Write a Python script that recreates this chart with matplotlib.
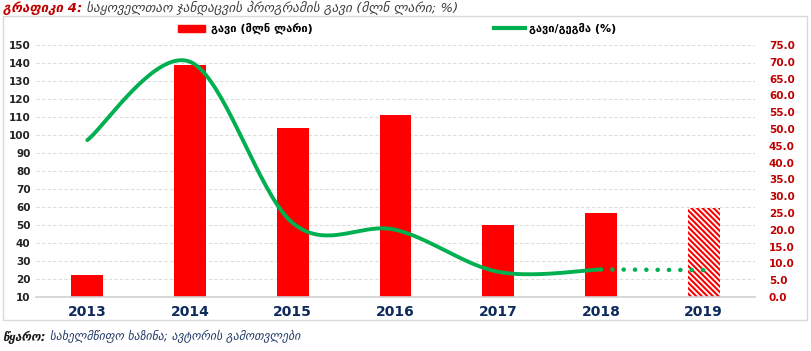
import numpy as np
import matplotlib
matplotlib.use("Agg")
import matplotlib.pyplot as plt
from matplotlib.patches import Rectangle

# data
years = ["2013", "2014", "2015", "2016", "2017", "2018", "2019"]
spend = [22.2, 138.8, 103.9, 111.0, 50.0, 56.6, 59.4]      # mln GEL (2019 = plan, hatched)
share = [46.7, 70.0, 22.0, 20.0, 7.5, 8.2, 8.0]            # %, right axis
left_ticks = list(range(10, 151, 10))
right_ticks = [i * 5.0 for i in range(16)]

title_red = "გრაფიკი 4:"
title_rest = " საყოველთაო ჯანდაცვის პროგრამის გავი (მლნ ლარი; %)"
leg_bar = "გავი (მლნ ლარი)"
leg_line = "გავი/გეგმა (%)"
src_bold = "წყარო:"
src_rest = " სახელმწიფო ხაზინა; ავტორის გამოთვლები"

RED = "#FF0000"
GREEN = "#00B050"
DARKRED = "#C00000"
NAVY = "#0E2A5C"

plt.rcParams['font.family'] = ['DejaVu Sans']
plt.rcParams['hatch.linewidth'] = 1.5


def smooth(xs, ys, n=40):
    # excel-like smoothed line (bezier with catmull-rom control points)
    p = np.column_stack([xs, ys]).astype(float)
    out = []
    for i in range(len(p) - 1):
        p0 = p[i - 1] if i > 0 else p[i]
        p3 = p[i + 2] if i + 2 < len(p) else p[i + 1]
        c1 = p[i] + (p[i + 1] - p0) / 6
        c2 = p[i + 1] - (p3 - p[i]) / 6
        t = np.linspace(0, 1, n)[:, None]
        seg = ((1 - t) ** 3) * p[i] + 3 * ((1 - t) ** 2) * t * c1 + 3 * (1 - t) * t ** 2 * c2 + t ** 3 * p[i + 1]
        out.append(seg if i == 0 else seg[1:])
    out = np.vstack(out)
    return out[:, 0], out[:, 1]


fig = plt.figure(figsize=(8.12, 3.51), dpi=100)
W, H = 812, 351
ax = fig.add_axes([36 / W, 1 - 297 / H, (755 - 36) / W, (297 - 45) / H])
ax2 = ax.twinx()

x = np.arange(len(years))
bw = 0.31
ax.bar(x[:-1], spend[:-1], width=bw, color=RED, zorder=2)
ax.bar(x[-1], spend[-1], width=bw, color="white", edgecolor=RED, hatch="\\\\\\\\\\\\", linewidth=0, zorder=2)

ax.set_xlim(-0.5, len(years) - 0.5)
ax.set_ylim(10, 150)
ax.set_yticks(left_ticks)
ax.set_yticklabels([str(v) for v in left_ticks], fontsize=7.5, fontweight="bold", color="#222222")
ax.set_xticks(x)
ax.set_xticklabels(years, fontsize=10, fontweight="bold", color=NAVY)
ax.tick_params(axis="both", length=0, pad=4)
ax.tick_params(axis="x", pad=6)
ax.grid(axis="y", color="#DDDDDD", linestyle=(0, (3, 2)), linewidth=0.8, zorder=0)
ax.set_axisbelow(True)
for s in ["top", "right", "left"]:
    ax.spines[s].set_visible(False)
ax.spines["bottom"].set_color("#D0D0D0")
ax.spines["bottom"].set_linewidth(1.2)

sx, sy = smooth(x[:-1], share[:-1])
ax2.plot(sx, sy, color=GREEN, linewidth=2.8, solid_capstyle="round", zorder=3)
ax2.plot(x[-2:], share[-2:], color=GREEN, linewidth=3.2, linestyle=(0, (0.05, 2.5)),
         dash_capstyle="round", zorder=3)
ax2.set_ylim(0, 75)
ax2.set_yticks(right_ticks)
ax2.set_yticklabels([f"{v:.1f}" for v in right_ticks], fontsize=7.5, fontweight="bold", color=DARKRED)
ax2.tick_params(axis="y", length=0, pad=10)
for s in ["top", "right", "left", "bottom"]:
    ax2.spines[s].set_visible(False)

# outer chart frame
fig.patches.append(Rectangle((3 / W, 1 - 320 / H), 804 / W, 304 / H, transform=fig.transFigure,
                             fill=False, edgecolor="#D9D9D9", linewidth=1))

# legend
fig.patches.append(Rectangle((178 / W, 1 - 32 / H), 27 / W, 7 / H, transform=fig.transFigure,
                             color=RED))
fig.text(211 / W, 1 - 28 / H, leg_bar, fontsize=8, fontweight="bold", va="center", ha="left")
fig.add_artist(plt.Line2D([494 / W, 525 / W], [1 - 28 / H, 1 - 28 / H], color=GREEN, linewidth=3,
                          transform=fig.transFigure))
fig.text(529 / W, 1 - 28 / H, leg_line, fontsize=8, fontweight="bold", va="center", ha="left")

# title and source
fig.canvas.draw()
r = fig.canvas.get_renderer()
t1 = fig.text(3 / W, 1 - 8 / H, title_red, fontsize=9.5, fontweight="bold", style="italic",
              color=DARKRED, va="center", ha="left")
bb = t1.get_window_extent(r)
fig.text(bb.x1 / W, 1 - 8 / H, title_rest, fontsize=9.5, style="italic", color="#404040",
         va="center", ha="left")
s1 = fig.text(3 / W, 1 - 337 / H, src_bold, fontsize=8.5, fontweight="bold", style="italic",
              color="#1A1A1A", va="center", ha="left")
bb = s1.get_window_extent(r)
fig.text(bb.x1 / W, 1 - 337 / H, src_rest, fontsize=8.5, style="italic", color="#1F3864",
         va="center", ha="left")

fig.savefig("out.png", dpi=100)
